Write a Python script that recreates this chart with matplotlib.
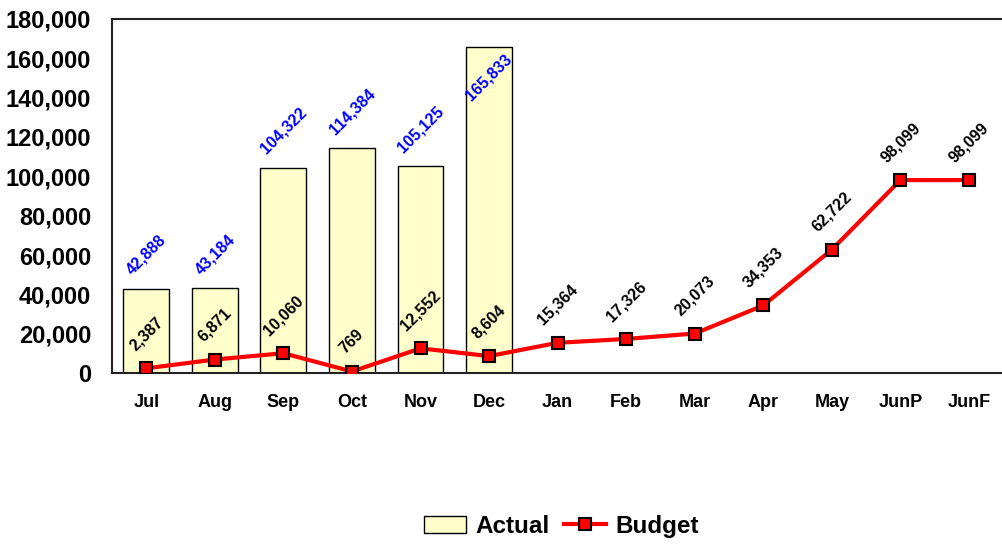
import matplotlib
matplotlib.use("Agg")
import matplotlib.pyplot as plt
from matplotlib.ticker import FuncFormatter
from matplotlib.transforms import offset_copy
from matplotlib.lines import Line2D
from matplotlib.patches import Patch

plt.rcParams["font.family"] = ["Liberation Sans", "DejaVu Sans"]
plt.rcParams["font.weight"] = "bold"

months = ["Jul", "Aug", "Sep", "Oct", "Nov", "Dec", "Jan", "Feb", "Mar",
          "Apr", "May", "JunP", "JunF"]
actual = [42888, 43184, 104322, 114384, 105125, 165833]
budget = [2387, 6871, 10060, 769, 12552, 8604, 15364, 17326, 20073,
          34353, 62722, 98099, 98099]
y_ticks = [0, 20000, 40000, 60000, 80000, 100000, 120000, 140000, 160000, 180000]

fig = plt.figure(figsize=(10.03, 5.44), dpi=100)
ax = fig.add_axes([0.1117, 0.3143, 0.8885, 0.6508])

x = list(range(len(months)))
ax.bar(x[:len(actual)], actual, width=0.67, color="#FFFFCC",
       edgecolor="black", linewidth=1.0, zorder=2)
ax.plot(x, budget, color="#FF0000", linewidth=3, marker="s", markersize=8,
        markerfacecolor="#FF0000", markeredgecolor="black",
        markeredgewidth=1.5, zorder=3)

ax.set_xlim(-0.5, len(months) - 0.5)
ax.set_ylim(0, 180000)
ax.set_yticks(y_ticks)
ax.yaxis.set_major_formatter(FuncFormatter(lambda v, p: f"{int(v):,}"))
ax.set_xticks(x)
ax.set_xticklabels(months)
ax.tick_params(axis="y", length=0, pad=15, labelsize=17)
ax.tick_params(axis="x", length=0, pad=15, labelsize=13)
for lab in ax.get_xticklabels() + ax.get_yticklabels():
    lab.set_fontweight("bold")

for side in ["left", "top", "bottom"]:
    ax.spines[side].set_linewidth(1.5)
    ax.spines[side].set_color("#222222")
ax.spines["right"].set_visible(False)

# data labels
for i, v in enumerate(actual):
    if v > 150000:
        tr = offset_copy(ax.transData, fig=fig, x=0, y=-5, units="dots")
        ax.text(i, v, f"{v:,}", transform=tr, rotation=45, ha="center",
                va="top", color="#0000FF", fontsize=11.5, fontweight="bold",
                zorder=4)
    else:
        tr = offset_copy(ax.transData, fig=fig, x=0, y=11, units="dots")
        ax.text(i, v, f"{v:,}", transform=tr, rotation=45, ha="center",
                va="bottom", color="#0000FF", fontsize=11.5, fontweight="bold",
                zorder=4)

for i, v in enumerate(budget):
    tr = offset_copy(ax.transData, fig=fig, x=0, y=15, units="dots")
    ax.text(i, v, f"{v:,}", transform=tr, rotation=45, ha="center",
            va="bottom", color="black", fontsize=11.5, fontweight="bold",
            zorder=4)

handles = [
    Patch(facecolor="#FFFFCC", edgecolor="black", linewidth=1.0, label="Actual"),
    Line2D([0], [0], color="#FF0000", linewidth=3, marker="s", markersize=8,
           markerfacecolor="#FF0000", markeredgecolor="black",
           markeredgewidth=1.5, label="Budget"),
]
fig.legend(handles=handles, loc="center", bbox_to_anchor=(0.56, 0.033),
           ncol=2, frameon=False, prop={"size": 17.5, "weight": "bold"},
           handlelength=1.7, handletextpad=0.4, columnspacing=0.6)

fig.savefig("out.png", dpi=100)
